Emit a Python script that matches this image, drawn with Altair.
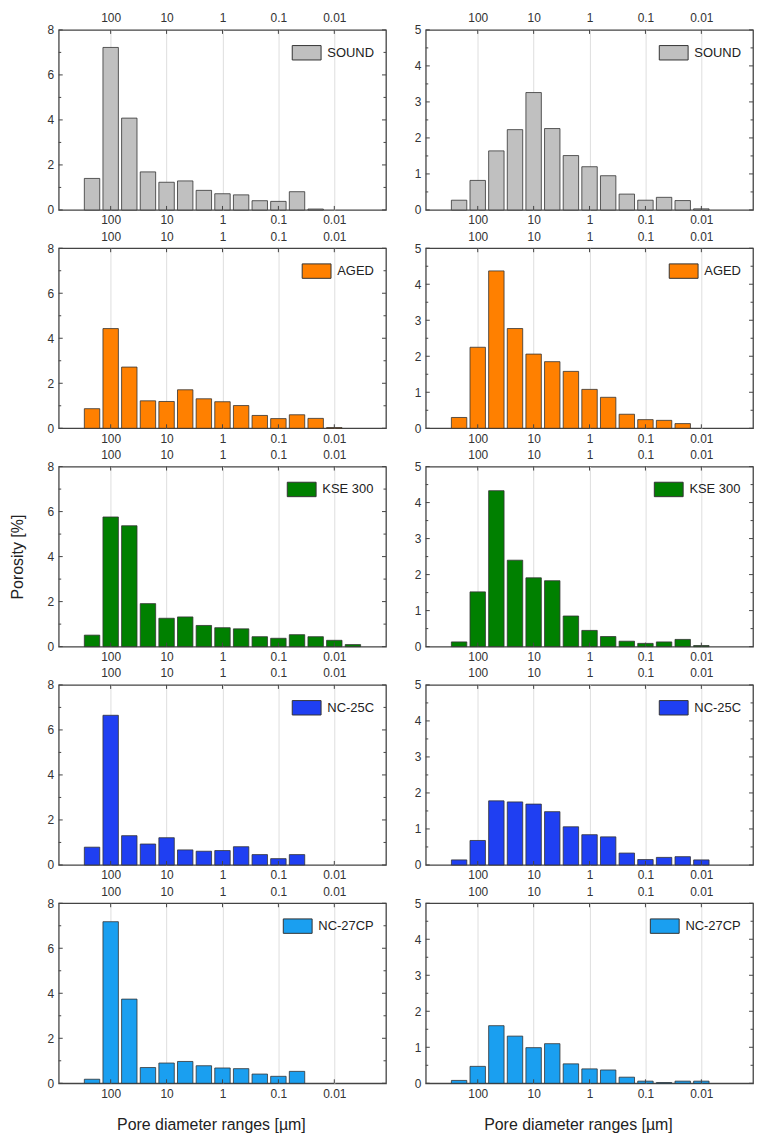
import altair as alt
import pandas as pd

# bin centres (pore diameter, µm), three classes per decade
centers = [215.4, 100, 46.42, 21.54, 10, 4.642, 2.154, 1, 0.4642, 0.2154,
           0.1, 0.04642, 0.02154, 0.01, 0.004642]

samples = ["SOUND", "AGED", "KSE 300", "NC-25C", "NC-27CP"]
colors = ["#c0c0c0", "#ff8000", "#008000", "#1f3ff2", "#1a9ff0"]

# left column (porosity %, 0-8)
left_sound = [1.40, 7.22, 4.08, 1.69, 1.23, 1.29, 0.87, 0.72, 0.67, 0.41, 0.38, 0.81, 0.04]
left_aged = [0.87, 4.43, 2.72, 1.22, 1.19, 1.71, 1.31, 1.18, 1.01, 0.57, 0.43, 0.60, 0.44, 0.03]
left_kse = [0.51, 5.76, 5.37, 1.91, 1.26, 1.32, 0.94, 0.84, 0.79, 0.44, 0.37, 0.53, 0.44, 0.28, 0.09]
left_nc25 = [0.79, 6.65, 1.30, 0.93, 1.21, 0.67, 0.61, 0.64, 0.81, 0.46, 0.28, 0.46]
left_nc27 = [0.18, 7.18, 3.74, 0.70, 0.90, 0.97, 0.78, 0.68, 0.65, 0.41, 0.31, 0.53]

# right column (porosity %, 0-5)
right_sound = [0.27, 0.82, 1.64, 2.23, 3.26, 2.26, 1.51, 1.20, 0.95, 0.44, 0.27, 0.35, 0.26, 0.03]
right_aged = [0.30, 2.25, 4.37, 2.77, 2.06, 1.85, 1.58, 1.08, 0.86, 0.39, 0.24, 0.22, 0.13]
right_kse = [0.13, 1.52, 4.33, 2.40, 1.91, 1.83, 0.85, 0.45, 0.28, 0.15, 0.09, 0.13, 0.20, 0.03]
right_nc25 = [0.14, 0.68, 1.78, 1.75, 1.69, 1.48, 1.06, 0.84, 0.78, 0.33, 0.15, 0.21, 0.23, 0.14]
right_nc27 = [0.08, 0.47, 1.60, 1.31, 0.99, 1.10, 0.54, 0.40, 0.37, 0.17, 0.06, 0.02, 0.06, 0.06]

left_vals = [left_sound, left_aged, left_kse, left_nc25, left_nc27]
right_vals = [right_sound, right_aged, right_kse, right_nc25, right_nc27]

xticks = [100, 10, 1, 0.1, 0.01]
left_major = [0, 2, 4, 6, 8]
left_minor = [1, 3, 5, 7]
right_major = [0, 1, 2, 3, 4, 5]
right_minor = [0.5, 1.5, 2.5, 3.5, 4.5]

W, H = 329, 181
FONT = "Liberation Sans"
TICK = "#444"


def panel(vals, name, color, ymax, ymajor, yminor, ytitle=None, xtitle=None):
    n = len(vals)
    df = pd.DataFrame({"d": centers[:n], "p": vals, "s": [name] * n})
    xs = alt.Scale(type="log", domain=[0.00146, 692], reverse=True, nice=False)
    ys = alt.Scale(domain=[0, ymax], nice=False, zero=True)

    xaxis_kw = dict(orient="bottom", values=xticks, format="~g", grid=True,
                    gridColor="#dedede", gridWidth=1, ticks=False, tickSize=0,
                    domain=False, labelPadding=5, labelFontSize=12,
                    labelColor="#333", labelFont=FONT)
    if xtitle:
        xaxis_kw.update(titleFontSize=16, titleFont=FONT, titleFontWeight="normal",
                        titleColor="#222", titlePadding=17, titleX=153)
    yaxis_kw = dict(values=ymajor, ticks=False, tickSize=0, domain=False, grid=False,
                    labelPadding=5, labelFontSize=12, labelColor="#333", labelFont=FONT)
    if ytitle:
        yaxis_kw.update(titleFontSize=16, titleFont=FONT, titleFontWeight="normal",
                        titleColor="#222", titlePadding=22)

    bars = alt.Chart(df).mark_bar(size=15.5, stroke="#333", strokeWidth=0.8).encode(
        x=alt.X("d:Q", scale=xs, axis=alt.Axis(**xaxis_kw), title=xtitle),
        y=alt.Y("p:Q", scale=ys, axis=alt.Axis(**yaxis_kw), title=ytitle),
        color=alt.Color(
            "s:N",
            scale=alt.Scale(domain=[name], range=[color]),
            legend=alt.Legend(
                title=" ", titleFontSize=3, titlePadding=0,
                orient="top-right", offset=12, padding=0,
                symbolType="M-1,-1H3V1H-1Z", symbolSize=210,
                symbolStrokeColor="#333", symbolStrokeWidth=1,
                labelFontSize=13, labelColor="#222", labelFont=FONT,
                labelOffset=20,
            ),
        ),
    )

    xt = pd.DataFrame({"v": xticks})
    top = alt.Chart(xt).mark_rule(color=TICK, strokeWidth=1).encode(
        x=alt.X("v:Q", scale=xs, title=None,
                axis=alt.Axis(orient="top", values=xticks, format="~g", grid=False,
                              ticks=False, tickSize=0, domain=False, labelPadding=5,
                              labelFontSize=12, labelColor="#333", labelFont=FONT)),
        y=alt.value(0), y2=alt.value(4),
    )
    bot = alt.Chart(xt).mark_rule(color=TICK, strokeWidth=1).encode(
        x=alt.X("v:Q", scale=xs, axis=None),
        y=alt.value(H - 4), y2=alt.value(H),
    )
    ymaj = pd.DataFrame({"v": ymajor})
    ymin = pd.DataFrame({"v": yminor})

    def yrule(d, x0, x1):
        return alt.Chart(d).mark_rule(color=TICK, strokeWidth=1).encode(
            y=alt.Y("v:Q", scale=ys, axis=None),
            x=alt.value(x0), x2=alt.value(x1),
        )

    layers = [bars, top, bot,
              yrule(ymaj, 0, 4), yrule(ymin, 0, 2.5),
              yrule(ymaj, W - 4, W), yrule(ymin, W - 2.5, W)]
    return alt.layer(*layers).resolve_axis(x="independent", y="independent").properties(
        width=W, height=H)


panels = []
for i, name in enumerate(samples):
    last = i == len(samples) - 1
    panels.append(panel(left_vals[i], name, colors[i], 8, left_major, left_minor,
                        ytitle="Porosity [%]" if i == 2 else None,
                        xtitle="Pore diameter ranges [µm]" if last else None))
    panels.append(panel(right_vals[i], name, colors[i], 5, right_major, right_minor,
                        xtitle="Pore diameter ranges [µm]" if last else None))

chart = alt.concat(
    *panels, columns=2,
    spacing=alt.RowColnumber(row=38.5, column=40), bounds="flush",
).resolve_scale(
    x="independent", y="independent", color="independent").resolve_legend(
    color="independent").configure_view(
    stroke="#444", strokeWidth=1.3).properties(
    padding={"left": 0, "top": 0, "right": 5, "bottom": 5}, background="white")

chart.save("out.html", embed_options={"renderer": "svg", "actions": False})
